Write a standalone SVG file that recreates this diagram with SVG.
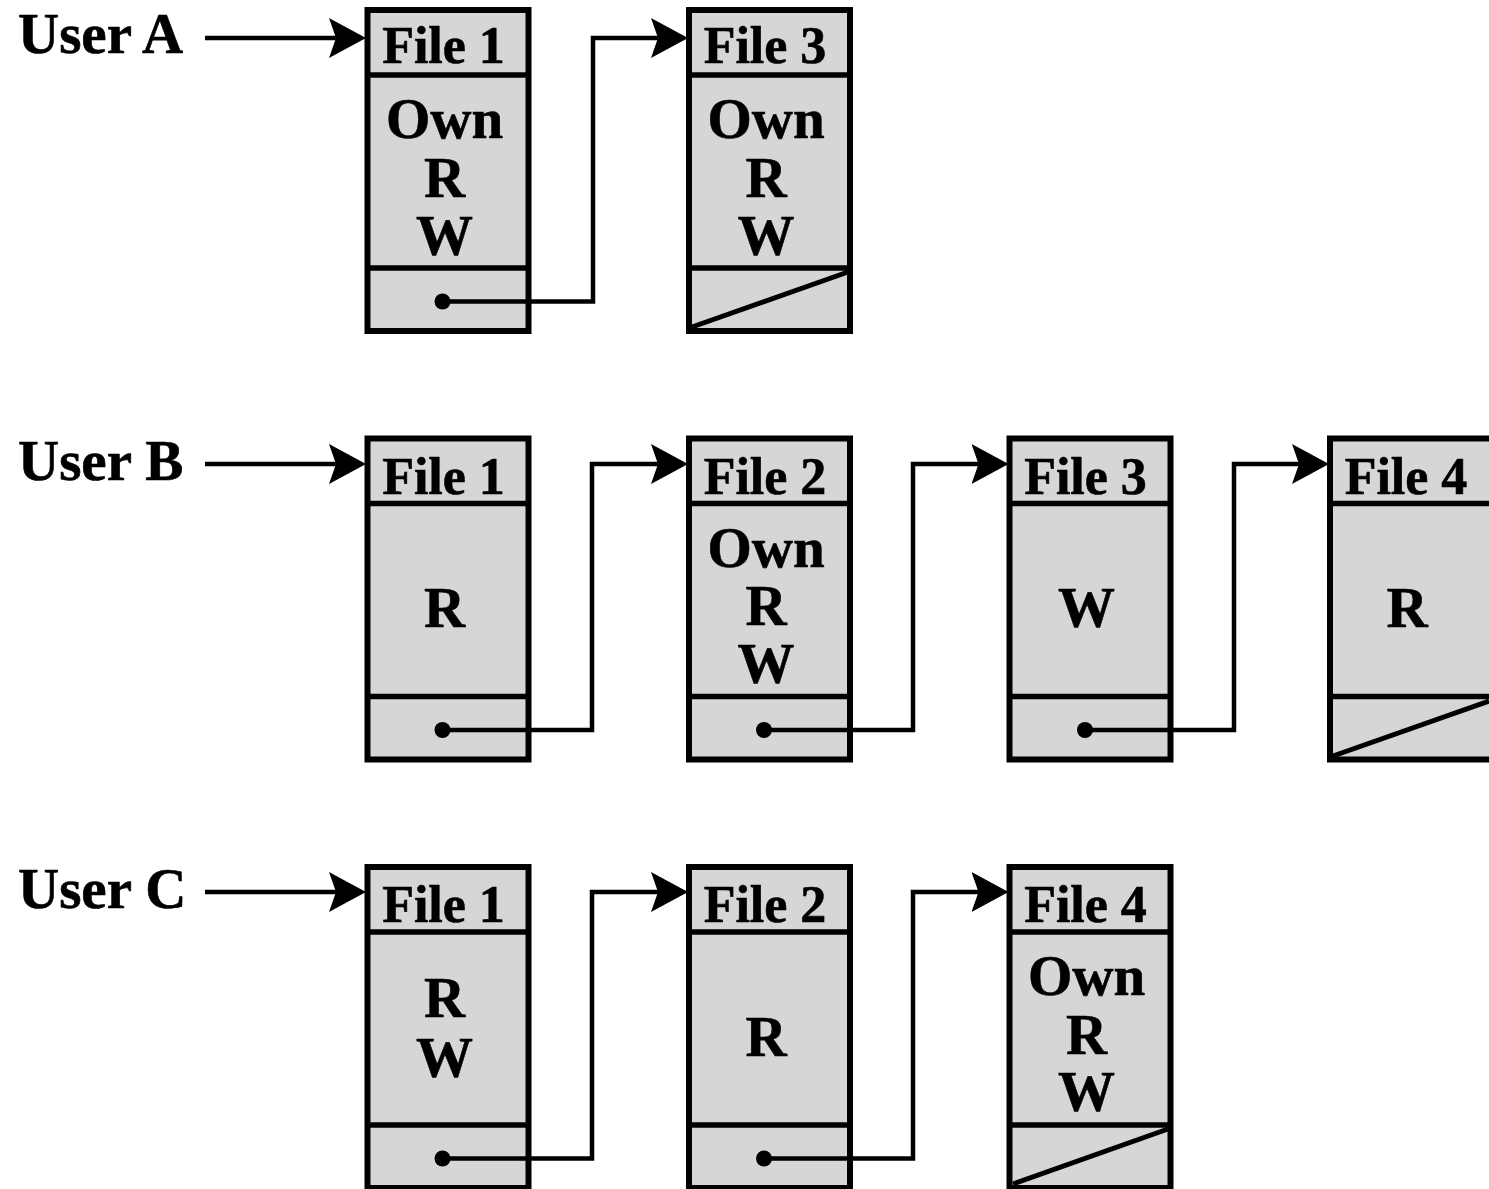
<svg xmlns="http://www.w3.org/2000/svg" width="1489" height="1189" viewBox="0 0 1489 1189">
  <style>
    .box { fill: #d6d6d6; stroke: #000; stroke-width: 6; }
    .div { stroke: #000; stroke-width: 5.5; fill: none; }
    .nil { stroke: #000; stroke-width: 5; fill: none; }
    .link { stroke: #000; stroke-width: 4.5; fill: none; marker-end: url(#head); }
    .dot { fill: #000; }
    text { font-family: "Liberation Serif", "Times New Roman", serif; font-weight: bold; fill: #000; stroke: #000; stroke-width: 0.6; }
    .hdr { font-size: 52px; text-anchor: middle; }
    .perm { font-size: 57px; text-anchor: middle; }
    .user { font-size: 57px; }
  </style>
  <defs>
    <marker id="head" markerUnits="userSpaceOnUse" markerWidth="42" markerHeight="44" refX="28" refY="22" orient="auto">
      <path d="M0,2 L37,22 L0,42 L7,22 Z" fill="#000"/>
    </marker>
  </defs>

  <rect width="1489" height="1189" fill="#fff"/>

  <!-- User A list -->
  <g id="userA"><text class="user" x="18" y="53">User A</text></g>
  <g id="a-file1">
    <rect class="box" x="367.5" y="10" width="161" height="321"/>
    <line class="div" x1="367.5" y1="75" x2="528.5" y2="75"/>
    <line class="div" x1="367.5" y1="268" x2="528.5" y2="268"/>
    <text class="hdr" x="443.5" y="63">File 1</text>
    <text class="perm" x="444.5" y="138">Own</text>
    <text class="perm" x="444.5" y="197">R</text>
    <text class="perm" x="444.5" y="255">W</text>
    <circle class="dot" cx="442.5" cy="301.5" r="8"/>
  </g>
  <g id="a-file3">
    <rect class="box" x="689" y="10" width="161" height="321"/>
    <line class="div" x1="689" y1="75" x2="850" y2="75"/>
    <line class="div" x1="689" y1="268" x2="850" y2="268"/>
    <line class="nil" x1="692" y1="327" x2="848" y2="272"/>
    <text class="hdr" x="765" y="63">File 3</text>
    <text class="perm" x="766" y="138">Own</text>
    <text class="perm" x="766" y="197">R</text>
    <text class="perm" x="766" y="255">W</text>
  </g>

  <!-- User B list -->
  <g id="userB"><text class="user" x="18" y="480">User B</text></g>
  <g id="b-file1">
    <rect class="box" x="367.5" y="438.5" width="161" height="321"/>
    <line class="div" x1="367.5" y1="503.5" x2="528.5" y2="503.5"/>
    <line class="div" x1="367.5" y1="696.5" x2="528.5" y2="696.5"/>
    <text class="hdr" x="443.5" y="493.5">File 1</text>
    <text class="perm" x="444.5" y="627">R</text>
    <circle class="dot" cx="442.5" cy="730" r="8"/>
  </g>
  <g id="b-file2">
    <rect class="box" x="689" y="438.5" width="161" height="321"/>
    <line class="div" x1="689" y1="503.5" x2="850" y2="503.5"/>
    <line class="div" x1="689" y1="696.5" x2="850" y2="696.5"/>
    <text class="hdr" x="765" y="493.5">File 2</text>
    <text class="perm" x="766" y="567">Own</text>
    <text class="perm" x="766" y="625">R</text>
    <text class="perm" x="766" y="683">W</text>
    <circle class="dot" cx="764" cy="730" r="8"/>
  </g>
  <g id="b-file3">
    <rect class="box" x="1009.5" y="438.5" width="161" height="321"/>
    <line class="div" x1="1009.5" y1="503.5" x2="1170.5" y2="503.5"/>
    <line class="div" x1="1009.5" y1="696.5" x2="1170.5" y2="696.5"/>
    <text class="hdr" x="1085.5" y="493.5">File 3</text>
    <text class="perm" x="1086.5" y="627">W</text>
    <circle class="dot" cx="1085" cy="730" r="8"/>
  </g>
  <!-- this node runs past the right edge of the page -->
  <g id="b-file4">
    <rect class="box" x="1330" y="438.5" width="166" height="321"/>
    <line class="div" x1="1330" y1="503.5" x2="1496" y2="503.5"/>
    <line class="div" x1="1330" y1="696.5" x2="1496" y2="696.5"/>
    <line class="nil" x1="1333" y1="756" x2="1489" y2="701"/>
    <text class="hdr" x="1406" y="493.5">File 4</text>
    <text class="perm" x="1407" y="627">R</text>
  </g>

  <!-- User C list -->
  <g id="userC"><text class="user" x="18" y="908">User C</text></g>
  <g id="c-file1">
    <rect class="box" x="367.5" y="867" width="161" height="321"/>
    <line class="div" x1="367.5" y1="932" x2="528.5" y2="932"/>
    <line class="div" x1="367.5" y1="1125" x2="528.5" y2="1125"/>
    <text class="hdr" x="443.5" y="922">File 1</text>
    <text class="perm" x="444.5" y="1017">R</text>
    <text class="perm" x="444.5" y="1077">W</text>
    <circle class="dot" cx="442.5" cy="1158.5" r="8"/>
  </g>
  <g id="c-file2">
    <rect class="box" x="689" y="867" width="161" height="321"/>
    <line class="div" x1="689" y1="932" x2="850" y2="932"/>
    <line class="div" x1="689" y1="1125" x2="850" y2="1125"/>
    <text class="hdr" x="765" y="922">File 2</text>
    <text class="perm" x="766" y="1056">R</text>
    <circle class="dot" cx="764" cy="1158.5" r="8"/>
  </g>
  <g id="c-file4">
    <rect class="box" x="1009.5" y="867" width="161" height="321"/>
    <line class="div" x1="1009.5" y1="932" x2="1170.5" y2="932"/>
    <line class="div" x1="1009.5" y1="1125" x2="1170.5" y2="1125"/>
    <line class="nil" x1="1013" y1="1184" x2="1168" y2="1129"/>
    <text class="hdr" x="1085.5" y="922">File 4</text>
    <text class="perm" x="1086.5" y="995">Own</text>
    <text class="perm" x="1086.5" y="1054">R</text>
    <text class="perm" x="1086.5" y="1111">W</text>
  </g>

  <!-- pointers: user heads and next-file links -->
  <g id="connectors">
    <path class="link" d="M205,38 H357"/>
    <path class="link" d="M442.5,301.5 H593 V38 H679"/>

    <path class="link" d="M205,464 H357"/>
    <path class="link" d="M442.5,730 H592 V464 H679"/>
    <path class="link" d="M764,730 H913 V464 H999.5"/>
    <path class="link" d="M1085,730 H1234 V464 H1320"/>

    <path class="link" d="M205,892 H357"/>
    <path class="link" d="M442.5,1158.5 H592 V892 H679"/>
    <path class="link" d="M764,1158.5 H913 V892 H999.5"/>
  </g>
</svg>
